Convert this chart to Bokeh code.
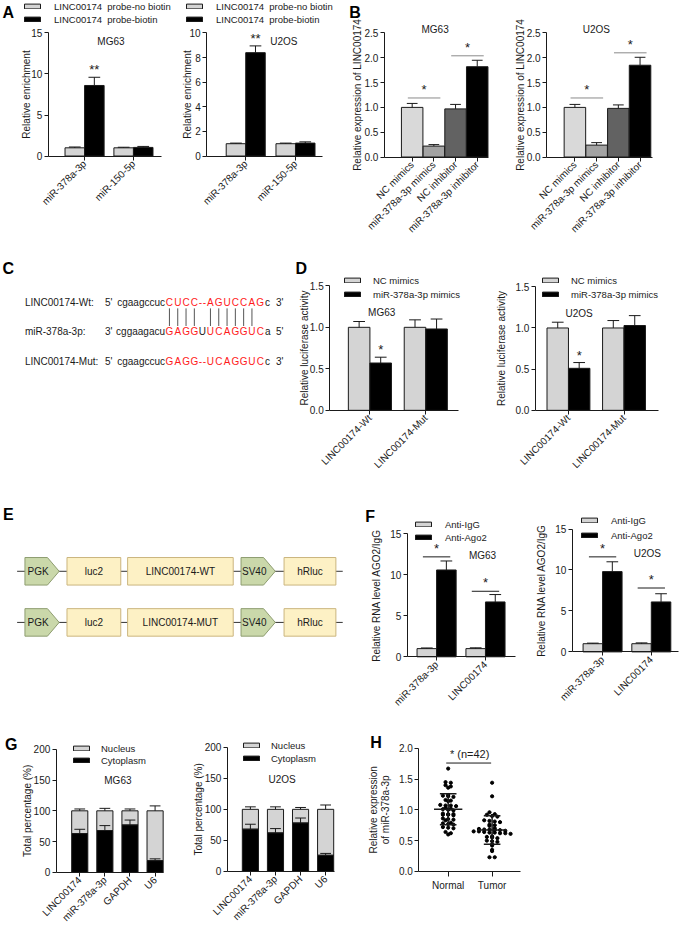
import math
import numpy as np
from bokeh.plotting import figure
from bokeh.layouts import column, row
from bokeh.models import Range1d, FixedTicker, Legend, LegendItem, NumeralTickFormatter
from bokeh.core.properties import value
from bokeh.embed import file_html
from bokeh.resources import INLINE

# ---------------- data ----------------
# A  RNA pull-down
a_categories = ["miR-378a-3p", "miR-150-5p"]
a_series = ["LINC00174  probe-no biotin", "LINC00174  probe-biotin"]
a_mg63_nobio = [1.00, 1.00]
a_mg63_nobio_sd = [0.10, 0.07]
a_mg63_bio = [8.6, 1.05]
a_mg63_bio_sd = [1.0, 0.12]
a_u2os_nobio = [1.00, 1.00]
a_u2os_nobio_sd = [0.05, 0.05]
a_u2os_bio = [8.4, 1.05]
a_u2os_bio_sd = [0.55, 0.10]
a_stars = ["**", ""]

# B  LINC00174 expression
b_categories = ["NC mimics", "miR-378a-3p mimics", "NC inhibitor", "miR-378a-3p inhibitor"]
b_mg63 = [1.00, 0.22, 0.97, 1.82]
b_mg63_sd = [0.08, 0.03, 0.09, 0.13]
b_u2os = [1.00, 0.24, 0.98, 1.85]
b_u2os_sd = [0.06, 0.05, 0.07, 0.16]
b_pairs = [(0, 1), (2, 3)]
b_mg63_sig = [1.19, 2.04]
b_u2os_sig = [1.19, 2.10]

# C  binding sites
c_names = ["LINC00174-Wt:", "miR-378a-3p:", "LINC00174-Mut:"]
c_left_end = ["5'", "3'", "5'"]
c_right_end = ["3'", "5'", "3'"]
c_left_flank = ["cgaagccuc", "cggaagacu", "cgaagccuc"]
c_core = ["CUCC--AGUCCAG", "GAGGUUCAGGUC", "GAGG--UCAGGUC"]
c_core_black = [[], [4], []]
c_right_flank = ["c", "a", "c"]
c_paired = [0, 1, 2, 3, 6, 7, 8, 9, 10, 11]

# D  luciferase
d_categories = ["LINC00174-Wt", "LINC00174-Mut"]
d_series = ["NC mimics", "miR-378a-3p mimics"]
d_mg63_nc = [1.00, 1.00]
d_mg63_nc_sd = [0.07, 0.09]
d_mg63_mir = [0.57, 0.98]
d_mg63_mir_sd = [0.07, 0.12]
d_u2os_nc = [1.00, 1.00]
d_u2os_nc_sd = [0.07, 0.09]
d_u2os_mir = [0.51, 1.03]
d_u2os_mir_sd = [0.07, 0.12]
d_stars = ["*", ""]

# E  constructs
e_constructs = ["LINC00174-WT", "LINC00174-MUT"]
e_elements = ["PGK", "luc2", None, "SV40", "hRluc"]
e_kinds = ["promoter", "gene", "gene", "promoter", "gene"]

# F  RIP
f_categories = ["miR-378a-3p", "LINC00174"]
f_series = ["Anti-IgG", "Anti-Ago2"]
f_mg63_igg = [1.0, 1.0]
f_mg63_igg_sd = [0.08, 0.10]
f_mg63_ago = [10.6, 6.7]
f_mg63_ago_sd = [1.1, 0.9]
f_u2os_igg = [1.0, 1.0]
f_u2os_igg_sd = [0.07, 0.10]
f_u2os_ago = [9.8, 6.1]
f_u2os_ago_sd = [1.2, 1.0]
f_mg63_sig = [12.2, 8.0]
f_u2os_sig = [11.6, 7.8]

# G  subcellular fractionation
g_categories = ["LINC00174", "miR-378a-3p", "GAPDH", "U6"]
g_series = ["Nucleus", "Cytoplasm"]
g_total = 100
g_mg63_cyto = [63, 68, 77, 19]
g_mg63_cyto_sd = [7, 8, 8, 3]
g_mg63_nuc_sd = [3, 4, 3, 8]
g_u2os_cyto = [68, 62, 78, 26]
g_u2os_cyto_sd = [8, 7, 8, 3]
g_u2os_nuc_sd = [4, 4, 3, 7]

# H  tissue expression
h_groups = ["Normal", "Tumor"]
h_normal = [1.67, 1.45, 1.44, 1.40, 1.38, 1.36, 1.24, 1.23, 1.22, 1.21, 1.16, 1.15, 1.14,
            1.08, 1.07, 1.07, 1.06, 1.03, 1.02, 1.01, 1.00, 0.99, 0.94, 0.93, 0.93, 0.92,
            0.92, 0.91, 0.86, 0.85, 0.84, 0.83, 0.79, 0.78, 0.77, 0.76, 0.72, 0.71, 0.70,
            0.64, 0.62, 0.60]
h_tumor = [1.44, 1.22, 0.96, 0.93, 0.92, 0.90, 0.89, 0.83, 0.82, 0.81, 0.80, 0.76, 0.75,
           0.74, 0.70, 0.69, 0.68, 0.68, 0.67, 0.67, 0.66, 0.65, 0.65, 0.64, 0.63, 0.63,
           0.62, 0.62, 0.61, 0.57, 0.56, 0.55, 0.54, 0.50, 0.49, 0.48, 0.44, 0.42, 0.35,
           0.33, 0.23, 0.23]
h_ylabel = ["Relative expression", "of miR-378a-3p"]
h_sig_level = 1.76
h_sig_text = "* (n=42)"

# ---------------- styling / layout helpers ----------------
SX = 682 / 698
SY = 931 / 947
FONT = "Liberation Sans"
FS = "10px"
LFS = "9.5px"
INK = "#1a1a1a"
LIGHT = "#d4d4d4"
BLACK = "#000000"
b_colors = ["#d9d9d9", "#a3a3a3", "#626262", "#000000"]


def X(v):
    return int(round(v * SX))


def Y(v):
    return int(round(v * SY))


def base_axes(p):
    for ax in (p.xaxis[0], p.yaxis[0]):
        ax.axis_line_color = INK
        ax.axis_line_width = 1
        ax.major_tick_line_color = INK
        ax.major_tick_in = 0
        ax.major_tick_out = 4
        ax.minor_tick_line_color = None
        ax.major_label_text_font = FONT
        ax.major_label_text_font_size = FS
        ax.major_label_text_color = INK
        ax.major_label_standoff = 2


class Panel:
    """A plot whose frame fills its whole box; axes sit at fixed locations inside it."""

    def __init__(self, box, axis_x, zero_y, ypu, x0px, xpu):
        fx0, fx1, fy0, fy1 = box
        self.box = box
        self.axis_x, self.zero_y, self.ypu, self.x0px, self.xpu = axis_x, zero_y, ypu, x0px, xpu
        p = figure(width=X(fx1) - X(fx0), height=Y(fy1) - Y(fy0),
                   x_range=Range1d(self.dx(fx0), self.dx(fx1)),
                   y_range=Range1d(self.dy(fy1), self.dy(fy0)),
                   output_backend="svg", toolbar_location=None,
                   min_border_left=0, min_border_right=0,
                   min_border_top=0, min_border_bottom=0)
        p.outline_line_color = None
        p.xgrid.visible = False
        p.ygrid.visible = False
        base_axes(p)
        p.xaxis[0].fixed_location = 0
        p.yaxis[0].fixed_location = self.dx(axis_x)
        self.p = p

    def dx(self, px):
        return (px - self.x0px) / self.xpu

    def dy(self, py):
        return (self.zero_y - py) / self.ypu

    def axes(self, ylabel, ylabel_x, yticks, yfmt, xticks, xlabels, x_end, orient=math.pi / 4):
        ya = self.p.yaxis[0]
        ya.ticker = FixedTicker(ticks=list(yticks))
        ya.bounds = (yticks[0], yticks[-1])
        if yfmt:
            ya.formatter = NumeralTickFormatter(format=yfmt)
        xa = self.p.xaxis[0]
        xa.ticker = FixedTicker(ticks=[float(t) for t in xticks])
        xa.major_label_overrides = {float(t): l for t, l in zip(xticks, xlabels)}
        xa.bounds = (self.dx(self.axis_x), self.dx(x_end))
        xa.major_label_orientation = orient
        labels = ylabel if isinstance(ylabel, list) else [ylabel]
        xs = ylabel_x if isinstance(ylabel_x, list) else [ylabel_x]
        ymid = (yticks[0] + yticks[-1]) / 2
        for lab, lx in zip(labels, xs):
            self.p.text(x=[self.dx(lx)], y=[ymid], text=[lab], angle=math.pi / 2,
                        text_align="center", text_baseline="middle", text_font=value(FONT),
                        text_font_size=FS, text_color=INK)

    def bars(self, xs, tops, width_px, color, bottoms=None):
        tops = np.asarray(tops, float)
        bottoms = np.zeros_like(tops) if bottoms is None else np.asarray(bottoms, float)
        return self.p.vbar(x=np.asarray(xs, float), top=tops, bottom=bottoms,
                           width=width_px / self.xpu, fill_color=color,
                           line_color=INK, line_width=1)

    def errs(self, xs, base, sds, cap_px):
        xs = np.asarray(xs, float)
        base = np.asarray(base, float)
        hi = base + np.asarray(sds, float)
        c = cap_px / self.xpu
        self.p.segment(x0=xs, y0=base, x1=xs, y1=hi, line_color=INK, line_width=1)
        self.p.segment(x0=xs - c, y0=hi, x1=xs + c, y1=hi, line_color=INK, line_width=1)
        return hi

    def legend(self, items, sym_left, top, spacing=1, standoff=12, row_h=12):
        n = len(items)
        h = n * row_h + (n - 1) * spacing
        fx0, fx1, fy0, fy1 = self.box
        leg = Legend(items=[LegendItem(label=l, renderers=[r]) for l, r in items],
                     location=(X(sym_left) - X(fx0), Y(fy1) - Y(top) - h),
                     glyph_width=20, glyph_height=6, label_standoff=standoff,
                     label_height=row_h, spacing=spacing, padding=0, margin=0,
                     border_line_color=None, background_fill_alpha=0,
                     label_text_font=FONT, label_text_font_size=LFS,
                     label_text_color=INK)
        self.p.add_layout(leg)

    def title(self, px, py, s):
        self.p.text(x=[self.dx(px)], y=[self.dy(py)], text=[s], text_align="center",
                    text_baseline="middle", text_font=value(FONT), text_font_size=FS,
                    text_color=INK)

    def stars(self, xs, ys, labels, size="13px", lift_px=0):
        for x, y, s in zip(xs, ys, labels):
            if s:
                self.p.text(x=[x], y=[y + lift_px / self.ypu], text=[s], text_align="center",
                            text_baseline="bottom", text_font=value(FONT),
                            text_font_size=size, text_color=INK)

    def sig(self, x0, x1, y, star, color=INK, size="13px"):
        self.p.segment(x0=[x0], y0=[y], x1=[x1], y1=[y], line_color=color, line_width=1)
        self.stars([(x0 + x1) / 2], [y], [star], size=size, lift_px=1)

    def letter(self, px, py, s):
        self.p.text(x=[self.dx(px)], y=[self.dy(py)], text=[s], text_align="center",
                    text_baseline="middle", text_font=value(FONT), text_font_size="16px",
                    text_font_style="bold", text_color="black")


def grouped(pn, s1, s1sd, s2, s2sd, bar_px, cap_px):
    xs = np.arange(len(s1), dtype=float)
    off = bar_px / 2 / pn.xpu
    r1 = pn.bars(xs - off, s1, bar_px, LIGHT)
    r2 = pn.bars(xs + off, s2, bar_px, BLACK)
    pn.errs(xs - off, s1, s1sd, cap_px)
    hi2 = pn.errs(xs + off, s2, s2sd, cap_px)
    return r1, r2, xs + off, hi2


def diagram_fig(box):
    fx0, fx1, fy0, fy1 = box
    p = figure(width=X(fx1) - X(fx0), height=Y(fy1) - Y(fy0),
               x_range=Range1d(fx0, fx1), y_range=Range1d(fy1, fy0),
               x_axis_type=None, y_axis_type=None, output_backend="svg",
               toolbar_location=None, min_border_left=0, min_border_right=0,
               min_border_top=0, min_border_bottom=0)
    p.outline_line_color = None
    p.grid.visible = False
    return p


def dtext(p, x, y, s, color=INK, align="left", size=FS, style="normal"):
    p.text(x=[x], y=[y], text=[s], text_align=align, text_baseline="middle",
           text_font=value(FONT), text_font_size=size, text_color=color,
           text_font_style=style)


# ---------------- A ----------------
A1 = Panel((0, 178, 0, 255), axis_x=49, zero_y=158, ypu=125 / 15, x0px=86, xpu=50)
A1.axes("Relative enrichment", 27, [0, 5, 10, 15], None, [0, 1], a_categories, 165)
r1, r2, xb, hi = grouped(A1, a_mg63_nobio, a_mg63_nobio_sd, a_mg63_bio, a_mg63_bio_sd, 20, 6)
A1.stars(xb, hi, a_stars)
A1.legend([(a_series[0], r1), (a_series[1], r2)], sym_left=23, top=0)
A1.title(113, 42, "MG63")
A1.letter(8, 12, "A")

A2 = Panel((178, 343, 0, 255), axis_x=211, zero_y=158, ypu=125 / 10, x0px=251, xpu=51)
A2.axes("Relative enrichment", 191, [0, 2, 4, 6, 8, 10], None, [0, 1], a_categories, 330)
r1, r2, xb, hi = grouped(A2, a_u2os_nobio, a_u2os_nobio_sd, a_u2os_bio, a_u2os_bio_sd, 20, 6)
A2.stars(xb, hi, a_stars)
A2.legend([(a_series[0], r1), (a_series[1], r2)], sym_left=188, top=0)
A2.title(290, 42, "U2OS")


# ---------------- B ----------------
def b_panel(box, axis_x, ylab_x, x0px, end_px, vals, sds, sigs, title_xy, title):
    pn = Panel(box, axis_x=axis_x, zero_y=159, ypu=126 / 2.5, x0px=x0px, xpu=22.2)
    pn.axes("Relative expression of LINC00174", ylab_x, [0, 0.5, 1, 1.5, 2, 2.5], "0.0",
            [0, 1, 2, 3], b_categories, end_px)
    xs = np.arange(len(vals), dtype=float)
    pn.bars(xs, vals, 22, b_colors)
    pn.errs(xs, vals, sds, 5.5)
    for (i, j), lev in zip(b_pairs, sigs):
        pn.sig(i - 0.2, j + 0.3, lev, "*", color="#8a8a8a")
    pn.title(title_xy[0], title_xy[1], title)
    return pn


B1 = b_panel((343, 515, 0, 255), 393, 366, 421.5, 500, b_mg63, b_mg63_sd, b_mg63_sig, (445, 29), "MG63")
B1.letter(363, 12, "B")
B2 = b_panel((515, 698, 0, 255), 559, 532, 588, 667, b_u2os, b_u2os_sd, b_u2os_sig, (610, 29), "U2OS")

# ---------------- C ----------------
C = diagram_fig((0, 298, 255, 510))
dtext(C, 8, 272, "C", color="black", align="center", size="16px", style="bold")
c_rows_y = [307, 337, 367]
row1_centers = None
for k, yy in enumerate(c_rows_y):
    dtext(C, 25, yy, c_names[k])
    dtext(C, 107, yy, c_left_end[k])
    dtext(C, 168.5, yy, c_left_flank[k], align="right")
    pos = 168.75
    centers = []
    for i, ch in enumerate(c_core[k]):
        w = 4.0 if ch == "-" else (8.0 if i in c_core_black[k] else 8.5)
        cx = pos + w / 2
        pos += w
        centers.append(cx)
        dtext(C, cx, yy, ch, color=(INK if i in c_core_black[k] else "#ff1a1a"), align="center")
    dtext(C, pos + 0.5, yy, c_right_flank[k])
    dtext(C, 282, yy, c_right_end[k])
    if k == 0:
        row1_centers = centers
lx = [row1_centers[i] for i in c_paired]
C.segment(x0=lx, y0=[313] * len(lx), x1=lx, y1=[331] * len(lx), line_color="#555555", line_width=1)


# ---------------- D ----------------
def d_panel(box, axis_x, ylab_x, zero_y, ypu, x0px, end_px, nc, ncsd, mir, mirsd, sym_left, title_xy, title):
    pn = Panel(box, axis_x=axis_x, zero_y=zero_y, ypu=ypu, x0px=x0px, xpu=57)
    pn.axes("Relative luciferase activity", ylab_x, [0, 0.5, 1.0, 1.5], "0.0", [0, 1], d_categories, end_px)
    r1, r2, xb, hi = grouped(pn, nc, ncsd, mir, mirsd, 22, 6)
    pn.stars(xb, hi, d_stars)
    pn.legend([(d_series[0], r1), (d_series[1], r2)], sym_left=sym_left, top=279, spacing=2, standoff=11)
    pn.title(title_xy[0], title_xy[1], title)
    return pn


D1 = d_panel((298, 500, 255, 510), 337, 311, 417, 127 / 1.5, 378, 468, d_mg63_nc, d_mg63_nc_sd,
             d_mg63_mir, d_mg63_mir_sd, 350, (390, 317), "MG63")
D1.letter(308, 272, "D")
D2 = d_panel((500, 698, 255, 510), 547, 512, 417, 126 / 1.5, 581, 673, d_u2os_nc, d_u2os_nc_sd,
             d_u2os_mir, d_u2os_mir_sd, 553, (592, 318), "U2OS")

# ---------------- E ----------------
E = diagram_fig((0, 360, 510, 745))
dtext(E, 8, 523, "E", color="black", align="center", size="16px", style="bold")
e_spans = [(25, 60), (68, 123), (130, 238), (246, 281), (290, 343)]
e_rows_y = [581, 633]
for k, cy in enumerate(e_rows_y):
    E.segment(x0=[17], y0=[cy], x1=[350], y1=[cy], line_color="#333333", line_width=1)
    for (x0, x1), name, kind in zip(e_spans, e_elements, e_kinds):
        label = name if name is not None else e_constructs[k]
        if kind == "promoter":
            E.patch(x=[x0, x1 - 12, x1, x1 - 12, x0], y=[cy - 14, cy - 14, cy, cy + 14, cy + 14],
                    fill_color="#cad8aa", line_color="#8e9d70", line_width=1)
            dtext(E, (x0 + x1 - 8) / 2, cy, label, align="center")
        else:
            E.quad(left=[x0], right=[x1], bottom=[cy + 14], top=[cy - 14],
                   fill_color="#fdf1c5", line_color="#cbb57e", line_width=1)
            dtext(E, (x0 + x1) / 2, cy, label, align="center")


# ---------------- F ----------------
def f_panel(box, axis_x, ylab_x, zero_y, x0px, end_px, igg, iggsd, ago, agosd, sigs, sym_left, top, spacing, title_xy, title):
    pn = Panel(box, axis_x=axis_x, zero_y=zero_y, ypu=125 / 15, x0px=x0px, xpu=50)
    pn.axes("Relative RNA level AGO2/IgG", ylab_x, [0, 5, 10, 15], None, [0, 1], f_categories, end_px)
    r1, r2, xb, hi = grouped(pn, igg, iggsd, ago, agosd, 20, 6)
    for i, lev in enumerate(sigs):
        pn.sig(i - 0.28, i + 0.28, lev, "*")
    pn.legend([(f_series[0], r1), (f_series[1], r2)], sym_left=sym_left, top=top, spacing=spacing)
    pn.title(title_xy[0], title_xy[1], title)
    return pn


F1 = f_panel((360, 540, 510, 745), 416, 385, 668, 446, 527, f_mg63_igg, f_mg63_igg_sd, f_mg63_ago,
             f_mg63_ago_sd, f_mg63_sig, 423, 527, 1, (493, 565), "MG63")
F1.letter(378, 525, "F")
F2 = f_panel((540, 698, 510, 745), 585, 553, 663, 616, 694, f_u2os_igg, f_u2os_igg_sd, f_u2os_ago,
             f_u2os_ago_sd, f_u2os_sig, 593, 523, 3, (662, 563), "U2OS")


# ---------------- G ----------------
def g_panel(box, axis_x, ylab_x, zero_y, ypu, x0px, end_px, cyto, cytosd, nucsd, sym_left, top, spacing, title_xy, title):
    pn = Panel(box, axis_x=axis_x, zero_y=zero_y, ypu=ypu, x0px=x0px, xpu=25.67)
    pn.axes("Total percentage (%)", ylab_x, [0, 50, 100, 150, 200], None, [0, 1, 2, 3], g_categories, end_px)
    xs = np.arange(len(cyto), dtype=float)
    tot = np.full(len(cyto), float(g_total))
    rn = pn.bars(xs, tot, 16.5, LIGHT, bottoms=cyto)
    rc = pn.bars(xs, cyto, 16.5, BLACK)
    pn.errs(xs, cyto, cytosd, 5.5)
    pn.errs(xs, tot, nucsd, 5.5)
    pn.legend([(g_series[0], rn), (g_series[1], rc)], sym_left=sym_left, top=top, spacing=spacing, standoff=10)
    pn.title(title_xy[0], title_xy[1], title)
    return pn


G1 = g_panel((0, 185, 745, 947), 57, 28, 887, 125 / 200, 81, 167, g_mg63_cyto, g_mg63_cyto_sd,
             g_mg63_nuc_sd, 73, 755, 0, (120, 794), "MG63")
G1.letter(11, 757, "G")
G2 = g_panel((185, 360, 745, 947), 232, 202, 886, 126 / 200, 255.5, 342, g_u2os_cyto, g_u2os_cyto_sd,
             g_u2os_nuc_sd, 247, 752, 1, (288, 793), "U2OS")

# ---------------- H ----------------
H = Panel((360, 698, 745, 947), axis_x=428, zero_y=886, ypu=125 / 2, x0px=458, xpu=45)
H.axes(h_ylabel, [382, 394], [0, 0.5, 1.0, 1.5, 2.0], "0.0", [0, 1], h_groups, 532,
       orient="horizontal")
H.p.xaxis[0].major_tick_out = 5
H.p.xaxis[0].major_label_standoff = 4


def swarm(vals, bin_h=0.045, step=0.12):
    vals = np.asarray(vals, float)
    offs = np.zeros(len(vals))
    bins = np.round(vals / bin_h).astype(int)
    for b in np.unique(bins):
        idx = np.where(bins == b)[0]
        n = len(idx)
        offs[idx] = (np.arange(n) - (n - 1) / 2) * step
    return offs


for gi, vals in enumerate([h_normal, h_tumor]):
    v = np.asarray(vals, float)
    H.p.scatter(x=gi + swarm(v), y=v, size=3.2, marker="circle", fill_color=BLACK, line_color=BLACK)
    m = v.mean()
    s = v.std(ddof=1)
    mw = 14.5 / H.xpu
    cw = 8.5 / H.xpu
    H.p.segment(x0=[gi - mw], y0=[m], x1=[gi + mw], y1=[m], line_color=INK, line_width=1.5)
    H.p.segment(x0=[gi], y0=[m - s], x1=[gi], y1=[m + s], line_color=INK, line_width=1.5)
    H.p.segment(x0=[gi - cw, gi - cw], y0=[m - s, m + s], x1=[gi + cw, gi + cw], y1=[m - s, m + s],
                line_color=INK, line_width=1.5)
H.p.segment(x0=[H.dx(456)], y0=[h_sig_level], x1=[H.dx(502)], y1=[h_sig_level], line_color=INK, line_width=1)
H.p.text(x=[H.dx(480)], y=[h_sig_level + 3 / H.ypu], text=[h_sig_text], text_align="center",
         text_baseline="bottom", text_font=value(FONT), text_font_size="11px", text_color=INK)
H.letter(384, 755, "H")

# ---------------- layout ----------------
layout = column(
    row(A1.p, A2.p, B1.p, B2.p),
    row(C, D1.p, D2.p),
    row(E, F1.p, F2.p),
    row(G1.p, G2.p, H.p),
)

open("out.html", "w").write(file_html(layout, INLINE))
